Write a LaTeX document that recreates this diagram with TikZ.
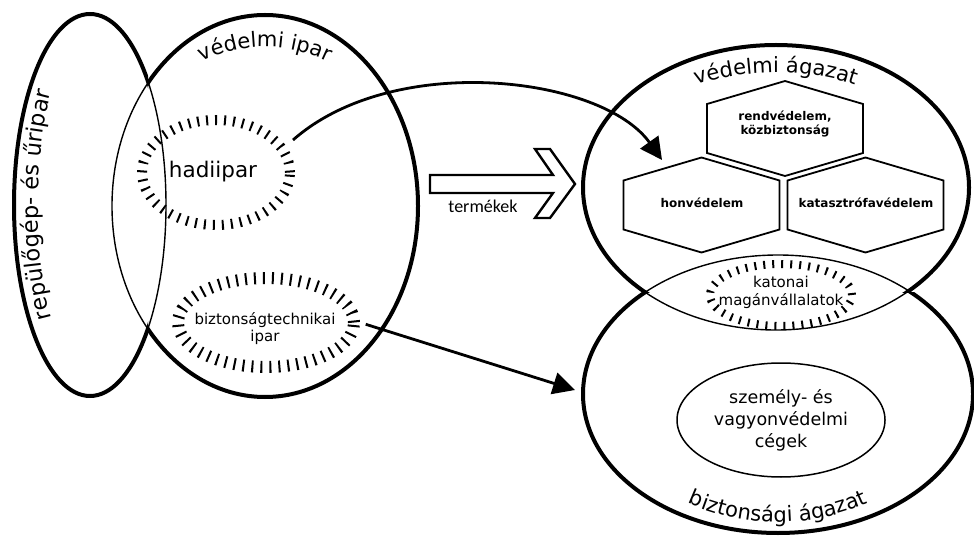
\documentclass[tikz,border=0pt]{standalone}
\usepackage{fontspec}
\setmainfont{DejaVu Sans}
\newfontfamily\termfont{Carlito}
\usetikzlibrary{shapes.geometric,arrows.meta,decorations.text}

\newcommand\curvedfont{\fontsize{21}{24}\selectfont}
\newcommand\sidefont{\fontsize{22.5}{24}\selectfont}

\tikzset{
  outline/.style={line width=4pt},
  lens/.style={line width=1.4pt},
  ticked/.style={draw, ellipse, inner sep=0pt, dash pattern=on 2pt off 7pt, line width=#1},
  hexbox/.style={line width=1.8pt},
  hexlabel/.style={font=\bfseries\fontsize{12}{14}\selectfont, align=center, inner sep=0pt},
  flow/.style={line width=2.8pt, -{Triangle[length=22pt,width=22pt]}},
  curved/.style={decorate, decoration={text along path, text align=center, text={|\curvedfont|#1}}},
  plain/.style={align=center, inner sep=0pt},
  hexagon/.pic={\draw[hexbox] (-78,24.5) -- (0,47.5) -- (78,24.5) -- (78,-24.5) -- (0,-47.5) -- (-78,-24.5) -- cycle;}
}

\begin{document}
\begin{tikzpicture}[x=1pt,y=1pt]
\useasboundingbox (0,0) rectangle (974,-537);

% --- industry side: aerospace and defence industry ---
\draw[lens] (90,-205) ellipse [x radius=76, y radius=191];
\draw[lens] (265,-206) ellipse [x radius=153, y radius=191];
\begin{scope}
  \clip (0,0) rectangle (148,-537);
  \draw[outline] (90,-205) ellipse [x radius=76, y radius=191];
\end{scope}
\begin{scope}
  \clip (148,0) rectangle (974,-537);
  \draw[outline] (265,-206) ellipse [x radius=153, y radius=191];
\end{scope}

\path[decorate, decoration={text along path, text align=center, text={|\sidefont|repülőgép- és űripar}}]
  (90,-205) ++(235:52 and 170)
  arc [start angle=235, end angle=125, x radius=52, y radius=170];
\path[curved={védelmi ipar}] (265,-206) ++(130:150 and 159)
  arc [start angle=130, end angle=50, x radius=150, y radius=159];

\node[ticked=10pt, minimum width=148, minimum height=105] (hadi) at (216,-172.5) {};
\node[plain, font=\fontsize{21.5}{24}\selectfont] (hadit) at (213,-172) {hadiipar};

\node[ticked=12pt, minimum width=176, minimum height=89] (bti) at (266,-322.5) {};
\node[plain, font=\fontsize{15}{17}\selectfont] (btit) at (265,-329) {biztonságtechnikai\\ipar};

% --- products arrow ---
\draw[line width=2.4pt, line join=miter]
  (430,-175) -- (553,-175) -- (535,-149) -- (550,-149) -- (575,-184)
  -- (550,-218) -- (535,-218) -- (553,-193) -- (430,-193) -- cycle;
\node[plain, font=\termfont\fontsize{18}{20}\selectfont] (prod) at (483,-206) {termékek};

% --- sector side: defence and security sectors ---
\draw[lens] (776,-187.5) ellipse [x radius=193, y radius=142.5];
\draw[lens] (778,-394) ellipse [x radius=195, y radius=139];
\begin{scope}
  \clip (560,0) rectangle (974,-292);
  \draw[outline] (776,-187.5) ellipse [x radius=193, y radius=142.5];
\end{scope}
\begin{scope}
  \clip (560,-292) rectangle (974,-537);
  \draw[outline] (778,-394) ellipse [x radius=195, y radius=139];
\end{scope}

\path[curved={védelmi ágazat}] (776,-187.5) ++(135:175 and 115)
  arc [start angle=135, end angle=45, x radius=175, y radius=115];
\path[curved={biztonsági ágazat}] (778,-394) ++(225:171 and 128)
  arc [start angle=225, end angle=315, x radius=171, y radius=128];

\pic at (785,-128.5) {hexagon};
\pic at (701.5,-205) {hexagon};
\pic at (865.5,-205) {hexagon};
\node[hexlabel] (rend) at (785,-124) {rendvédelem,\\közbiztonság};
\node[hexlabel] (honv) at (702,-203) {honvédelem};
\node[hexlabel] (kat) at (866,-203) {katasztrófavédelem};

\node[ticked=8pt, minimum width=142, minimum height=62] (pmc) at (781,-295) {};
\node[plain, font=\fontsize{15}{18}\selectfont] (pmct) at (781,-292) {katonai\\magánvállalatok};

\node[draw, ellipse, line width=1.5pt, minimum width=208, minimum height=114, inner sep=0pt] (guard) at (781,-420) {};
\node[plain, font=\fontsize{17.5}{22}\selectfont] (guardt) at (781,-420) {személy- és\\vagyonvédelmi\\cégek};

% --- connectors ---
\coordinate (hadiout) at (293,-140);
\coordinate (defin) at (662,-160);
\coordinate (secin) at (575,-390);
\draw[flow] (hadiout) .. controls (394,-51) and (602,-76) .. (defin);
\draw[flow, shorten <=6pt] (bti.east) -- (secin);
\end{tikzpicture}
\end{document}
